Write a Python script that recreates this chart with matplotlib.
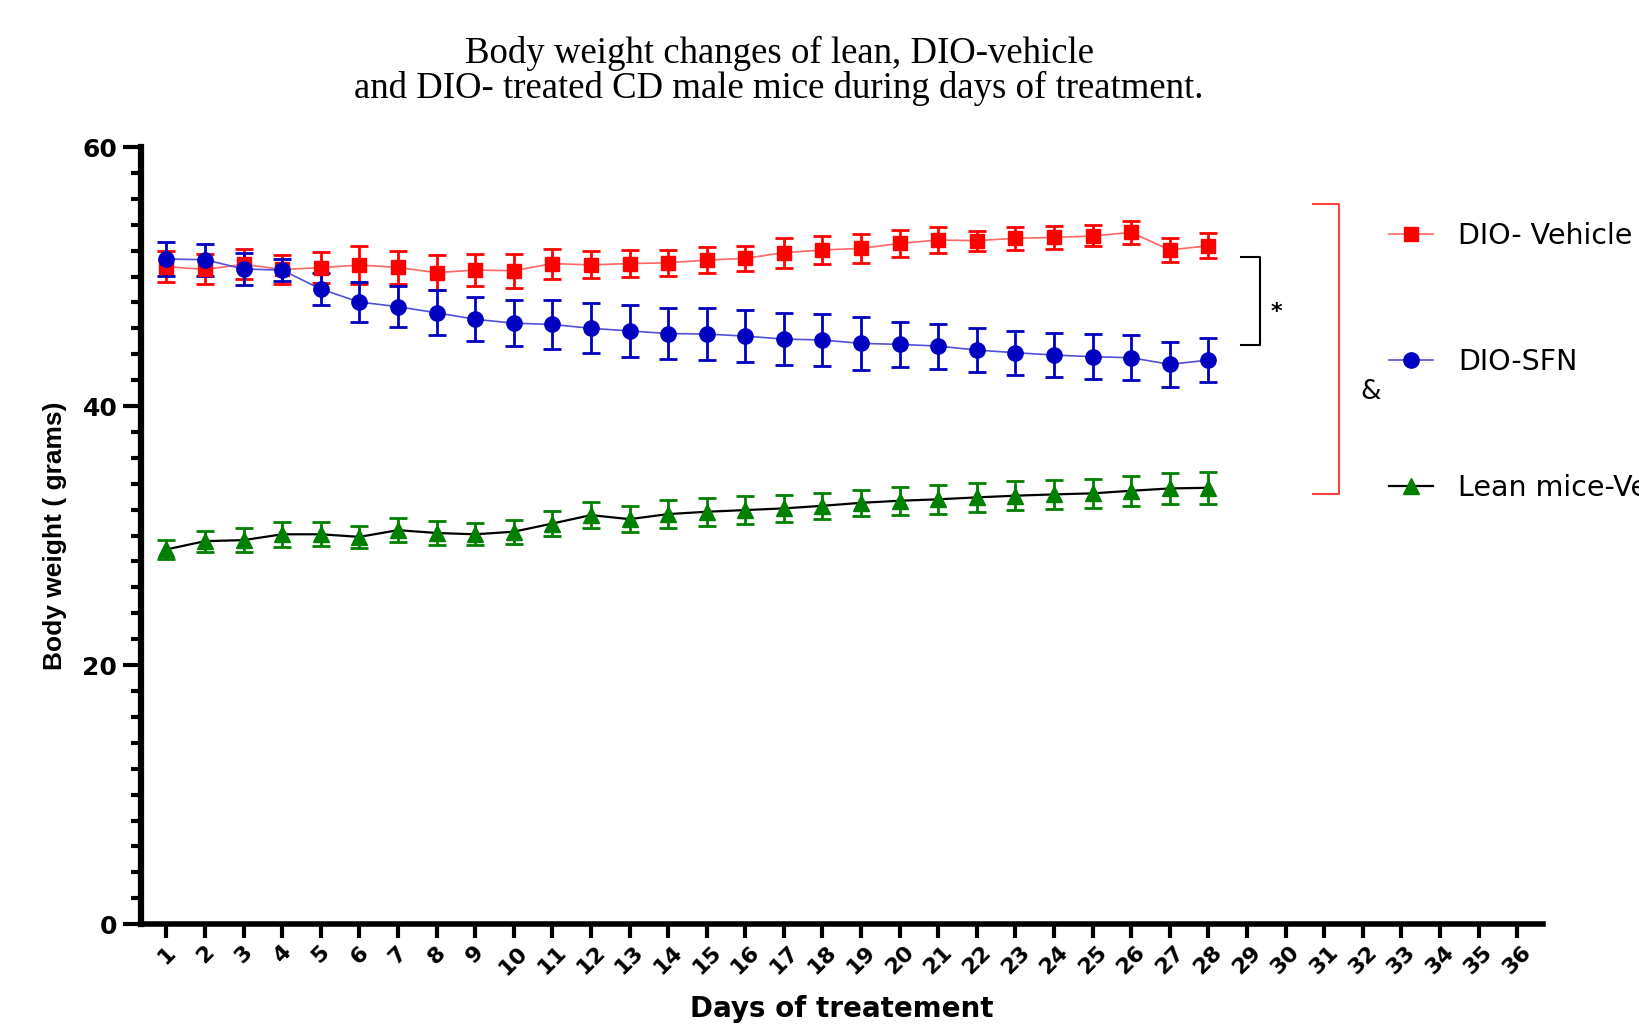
import numpy as np
import matplotlib
matplotlib.use("Agg")
import matplotlib.pyplot as plt
from matplotlib.ticker import MultipleLocator

# mean body weight (g) and SEM per day of treatment
days = np.arange(1, 29)
tick_days = np.arange(1, 37)

veh_mean = [50.76, 50.55, 50.94, 50.55, 50.68, 50.89, 50.70, 50.30, 50.50, 50.45,
            51.00, 50.90, 51.00, 51.06, 51.27, 51.40, 51.84, 52.05, 52.17, 52.56,
            52.82, 52.77, 52.95, 53.02, 53.13, 53.41, 52.05, 52.38]
veh_sem = [1.20, 1.16, 1.15, 1.10, 1.20, 1.50, 1.27, 1.34, 1.22, 1.30,
           1.16, 1.05, 1.03, 1.00, 0.98, 0.98, 1.16, 1.09, 1.10, 1.06,
           1.00, 0.77, 0.88, 0.90, 0.81, 0.89, 0.89, 0.97]

sfn_mean = [51.35, 51.30, 50.58, 50.50, 49.03, 48.03, 47.67, 47.20, 46.70, 46.40,
            46.30, 46.00, 45.80, 45.60, 45.56, 45.40, 45.17, 45.10, 44.84, 44.76,
            44.63, 44.32, 44.12, 43.94, 43.81, 43.73, 43.22, 43.55]
sfn_sem = [1.33, 1.25, 1.25, 0.87, 1.22, 1.54, 1.60, 1.74, 1.71, 1.76,
           1.87, 1.93, 2.00, 1.98, 1.99, 2.02, 2.02, 2.00, 2.06, 1.71,
           1.74, 1.71, 1.70, 1.71, 1.74, 1.74, 1.72, 1.67]

lean_mean = [28.93, 29.57, 29.65, 30.10, 30.10, 29.90, 30.42, 30.20, 30.10, 30.30,
             30.93, 31.58, 31.27, 31.66, 31.84, 31.97, 32.10, 32.30, 32.53, 32.69,
             32.80, 32.95, 33.08, 33.18, 33.26, 33.46, 33.64, 33.69]
lean_sem = [0.73, 0.81, 0.90, 0.98, 0.94, 0.87, 0.90, 0.90, 0.84, 0.93,
            0.98, 0.99, 1.00, 1.07, 1.09, 1.07, 1.07, 1.02, 1.00, 1.07,
            1.13, 1.12, 1.12, 1.12, 1.13, 1.17, 1.21, 1.24]

labels = ["DIO- Vehicle", "DIO-SFN", "Lean mice-Vehicle"]

SANS = "Liberation Sans"
WIDE = "DejaVu Sans"  # wider glyphs, closer to the stretched look of the original
SERIF = "Liberation Serif"


def main():
    fig = plt.figure(figsize=(16.39, 10.28), dpi=100)
    ax = fig.add_axes([0.086, 0.101, 0.8554, 0.756])

    eb = dict(elinewidth=2, capsize=6.5, capthick=2, ms=11)
    lean = ax.errorbar(days, lean_mean, yerr=lean_sem, fmt='-^', color='black',
                       lw=1.6, mfc='green', mec='green', ecolor='green', **eb)
    veh = ax.errorbar(days, veh_mean, yerr=veh_sem, fmt='-s', color='#ff6666',
                      lw=1.2, mfc='red', mec='red', ecolor='red',
                      **dict(eb, ms=10.5))
    sfn = ax.errorbar(days, sfn_mean, yerr=sfn_sem, fmt='-o', color='#5050d8',
                      lw=1.2, mfc='#0000c0', mec='#0000c0', ecolor='#0000c0', **eb)

    ax.set_xlim(0.34, 36.67)
    ax.set_ylim(0, 60)
    ax.set_xticks(tick_days)
    ax.set_xticklabels([str(d) for d in tick_days], rotation=45, ha='center',
                       va='top', fontsize=16, fontweight='bold', family=WIDE)
    ax.yaxis.set_major_locator(MultipleLocator(20))
    ax.yaxis.set_minor_locator(MultipleLocator(2))
    for lab in ax.get_yticklabels():
        lab.set_fontsize(18)
        lab.set_fontweight('bold')
        lab.set_family(WIDE)

    for s in ('top', 'right'):
        ax.spines[s].set_visible(False)
    ax.spines['left'].set_linewidth(4.5)
    ax.spines['bottom'].set_linewidth(4)
    ax.tick_params(axis='y', which='major', length=13, width=3, pad=4)
    ax.tick_params(axis='y', which='minor', length=7, width=3)
    ax.tick_params(axis='x', which='major', length=10, width=3, pad=3)

    ax.set_ylabel("Body weight ( grams)", fontsize=19, fontweight='bold', family=SANS)
    ax.yaxis.set_label_coords(-0.053, 0.5)
    ax.set_xlabel("Days of treatement", fontsize=20, fontweight='bold', family=WIDE)
    ax.xaxis.set_label_coords(0.5, -0.091)

    # significance brackets
    ax.plot([28.84, 29.35, 29.35, 28.84], [51.53, 51.53, 44.69, 44.69],
            color='black', lw=1.5, clip_on=False)
    ax.text(29.77, 47.3, "*", fontsize=16, fontweight='bold', family=WIDE,
            ha='center', va='center')
    ax.plot([30.7, 31.38, 31.38, 30.7], [55.6, 55.6, 33.2, 33.2],
            color='#ff4040', lw=1.5, clip_on=False)
    ax.text(32.2, 41.1, "&", fontsize=19, family=WIDE, ha='center', va='center')

    ax.legend([veh[0], sfn[0], lean[0]], labels, loc='upper left',
              bbox_to_anchor=(0.8475, 0.784), bbox_transform=fig.transFigure,
              frameon=False, borderpad=0, borderaxespad=0, labelspacing=3.44,
              handlelength=1.54, handletextpad=0.88,
              prop={'family': WIDE, 'size': 20.5})

    fig.text(0.4753, 0.931,
             "Body weight changes of lean, DIO-vehicle\n"
             "and DIO- treated CD male mice during days of treatment.",
             ha='center', va='center', fontsize=26.5, family=SERIF, linespacing=0.98)

    fig.savefig("out.png", dpi=100)


if __name__ == '__main__':
    main()
